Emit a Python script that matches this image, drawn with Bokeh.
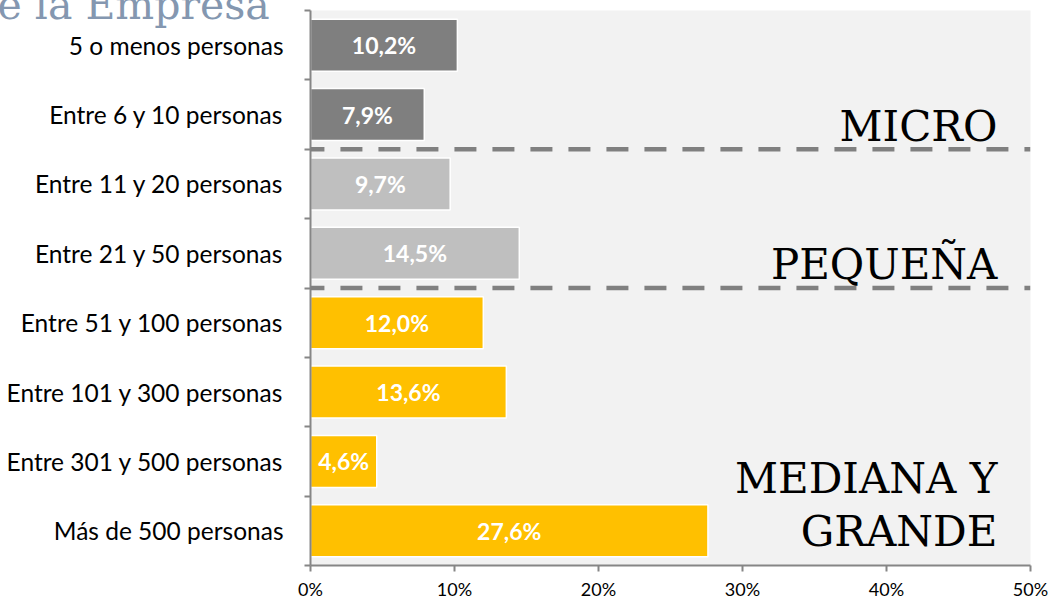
from bokeh.plotting import figure
from bokeh.models import ColumnDataSource, FixedTicker, PrintfTickFormatter, Range1d, Label, Arrow
from bokeh.core.properties import value
from bokeh.embed import file_html
from bokeh.resources import INLINE

categories = ["5 o menos personas", "Entre 6 y 10 personas", "Entre 11 y 20 personas",
              "Entre 21 y 50 personas", "Entre 51 y 100 personas", "Entre 101 y 300 personas",
              "Entre 301 y 500 personas", "Más de 500 personas"]
values = [10.2, 7.9, 9.7, 14.5, 12.0, 13.6, 4.6, 27.6]
groups = ["MICRO", "MICRO", "PEQUEÑA", "PEQUEÑA", "MEDIANA", "MEDIANA", "MEDIANA", "MEDIANA"]
group_colors = {"MICRO": "#7F7F7F", "PEQUEÑA": "#BFBFBF", "MEDIANA": "#FFC000"}
x_ticks = [0, 10, 20, 30, 40, 50]
title_text = "e la Empresa"

n = len(categories)
ypos = [n - i - 0.5 for i in range(n)]
src = ColumnDataSource(dict(
    y=ypos, v=values, half=[v / 2 for v in values],
    color=[group_colors[g] for g in groups],
    lab=[f"{v:.1f}".replace(".", ",") + "%" for v in values],
))

p = figure(width=1052, height=602, output_backend="svg", toolbar_location=None,
           x_range=Range1d(0, 50), y_range=Range1d(0, n),
           min_border_left=310, min_border_right=22, min_border_top=10, min_border_bottom=35)
p.background_fill_color = "#F2F2F2"
p.border_fill_color = "white"
p.outline_line_color = None
p.grid.visible = False

# title fragment (its top is cut off at the page edge, as in the reference)
p.title.text = title_text
p.title.align = "left"
p.title.offset = -313
p.title.vertical_align = "top"
p.title.standoff = -41
p.title.text_font = "DejaVu Serif"
p.title.text_font_size = "41px"
p.title.text_font_style = "normal"
p.title.text_color = "#8497B0"

p.hbar(y="y", right="v", left=0, height=0.75, color="color", line_color="white",
       line_width=1.5, source=src)
p.text(x="half", y="y", text="lab", source=src, text_align="center", text_baseline="middle",
       text_color="white", text_font=value("Lato"), text_font_style="bold",
       text_font_size="23px")

# y axis
p.yaxis.ticker = FixedTicker(ticks=ypos, minor_ticks=list(range(n + 1)))
p.yaxis.major_label_overrides = {y: c for y, c in zip(ypos, categories)}
p.yaxis.major_tick_out = 0
p.yaxis.major_tick_in = 0
p.yaxis.minor_tick_out = 6
p.yaxis.minor_tick_in = 0
p.yaxis.minor_tick_line_color = "#868686"
p.yaxis.minor_tick_line_width = 2
p.yaxis.axis_line_color = "#868686"
p.yaxis.axis_line_width = 2
p.yaxis.major_label_standoff = 21
p.yaxis.major_label_text_font = "Lato"
p.yaxis.major_label_text_font_size = "24.5px"
p.yaxis.major_label_text_color = "black"

# x axis
p.xaxis.ticker = FixedTicker(ticks=x_ticks, minor_ticks=[])
p.xaxis.formatter = PrintfTickFormatter(format="%d%%")
p.xaxis.major_tick_out = 6
p.xaxis.major_tick_in = 0
p.xaxis.major_tick_line_color = "#868686"
p.xaxis.major_tick_line_width = 2
p.xaxis.axis_line_color = "#868686"
p.xaxis.axis_line_width = 2
p.xaxis.major_label_standoff = 6
p.xaxis.major_label_text_font = "Lato"
p.xaxis.major_label_text_font_size = "18px"
p.xaxis.major_label_text_color = "black"

# dashed separators
for yb in [6, 4]:
    p.add_layout(Arrow(end=None, start=None, x_start=-0.56, y_start=yb, x_end=50, y_end=yb,
                       line_color="#808080", line_width=4.5, line_dash="22 16"))

# group labels
gl = [("MICRO", 6.334), ("PEQUEÑA", 4.337), ("MEDIANA Y", 1.25), ("GRANDE", 0.488)]
for t, yy in gl:
    p.add_layout(Label(x=47.7, y=yy, text=t, text_align="right", text_baseline="alphabetic",
                       text_font="DejaVu Serif", text_font_size="42px", text_color="black"))

open("out.html", "w").write(file_html(p, INLINE))
